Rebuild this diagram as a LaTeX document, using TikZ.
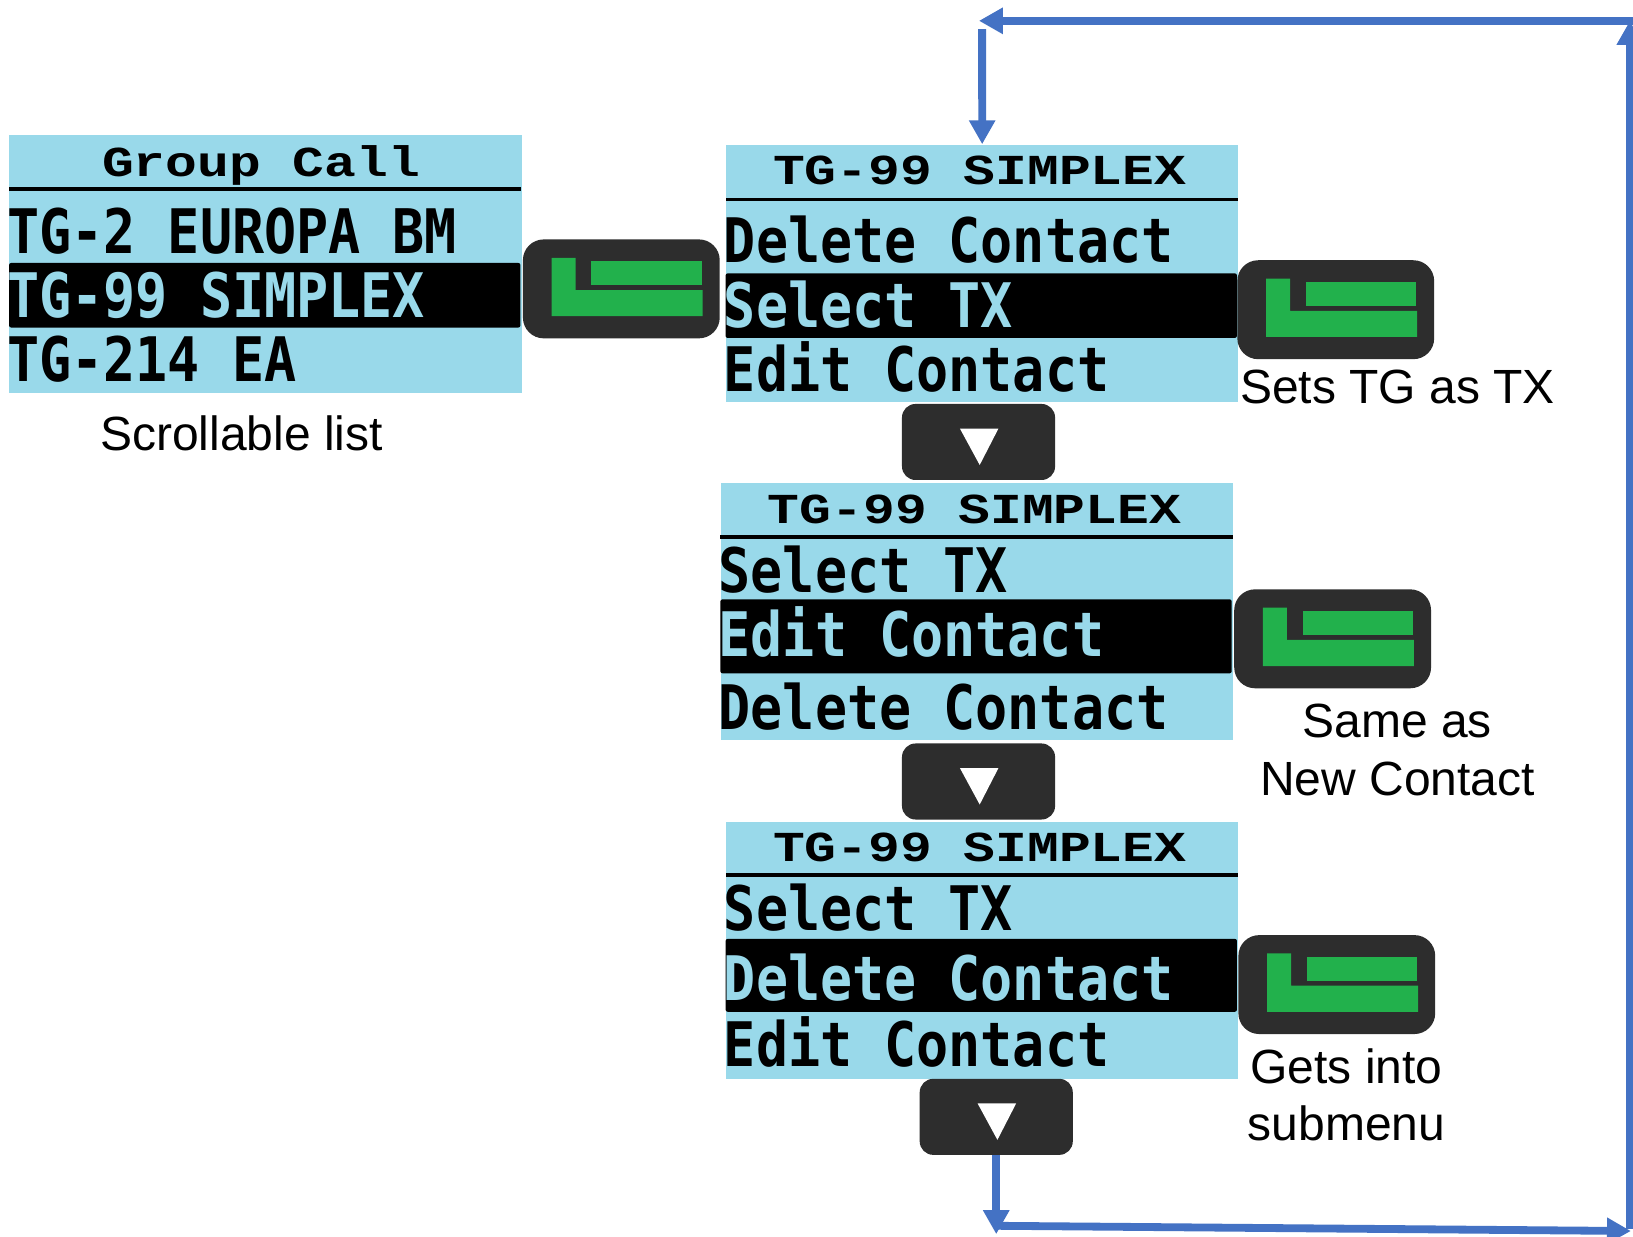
\documentclass[tikz,border=0pt]{standalone}
\usepackage{fontspec}
\usetikzlibrary{arrows.meta}
\setmainfont{Liberation Sans}
\newfontfamily\lcdtitle{Liberation Mono}[BoldFont={Liberation Mono Bold}]
\newfontfamily\lcditem{DejaVu Sans Mono}[BoldFont={DejaVu Sans Mono Bold}]
\definecolor{lcdblue}{HTML}{99D9EA}
\definecolor{btndark}{HTML}{2D2D2D}
\definecolor{btngreen}{HTML}{22B14C}
\definecolor{arrowblue}{HTML}{4472C4}
\def\un{0.52075pt}
\newcommand{\titletext}[1]{\scalebox{1.24}[1]{\fontsize{21.35pt}{21.35pt}\lcdtitle\bfseries #1}}
\newcommand{\itemtext}[1]{\scalebox{0.869}[1]{\fontsize{30.7pt}{30.7pt}\lcditem\bfseries #1}}
\tikzset{
  x=\un, y=-\un,
  panelbox/.style={fill=lcdblue, draw=none, inner sep=0pt, anchor=north west, minimum width=492*\un, minimum height=247*\un},
  titlenode/.style={inner sep=0pt, anchor=base, text=black},
  itemnode/.style={inner sep=0pt, anchor=base west, text=black},
  selnode/.style={inner sep=0pt, anchor=base west, text=lcdblue},
  okbtn/.style={fill=btndark, draw=none, rounded corners=20*\un, inner sep=0pt, anchor=north west, minimum width=189*\un, minimum height=95*\un},
  downbtn/.style={fill=btndark, draw=none, rounded corners=13*\un, inner sep=0pt, anchor=north west, minimum width=147*\un, minimum height=73*\un},
  caption/.style={inner sep=0pt, anchor=base, font=\fontsize{24pt}{24pt}\selectfont, text=black},
  flow/.style={draw=arrowblue, line width=7.5*\un},
  flowtip/.style={flow, -{Triangle[length=23*\un,width=24*\un]}},
}
% #1 x, #2 y, #3 rule rel y, #4 highlight top rel, #5 highlight height
\newcommand{\lcdchrome}[5]{%
  \fill[black] (#1,#2+#3-1.8) rectangle (#1+492,#2+#3+1.8);
  \fill[black, rounded corners=2*\un] (#1,#2+#4) rectangle (#1+491,#2+#4+#5);
}
\newcommand{\okglyph}[2]{%
  \fill[btngreen] (#1+28,#2+18) -- (#1+51,#2+18) -- (#1+51,#2+49) -- (#1+173,#2+49) -- (#1+173,#2+74) -- (#1+28,#2+74) -- cycle;
  \fill[btngreen] (#1+66,#2+21) rectangle (#1+172,#2+44);
}
\newcommand{\downglyph}[2]{%
  \fill[white] (#1+56,#2+24) -- (#1+93,#2+24) -- (#1+75,#2+59) -- cycle;
}
\begin{document}
\begin{tikzpicture}
\clip (0,0) rectangle (1568,1187);
\fill[white] (0,0) rectangle (1568,1187);

\begin{scope}[shift={(-0.3,-0.5)}]
% panel 1
\node[panelbox] (p1) at (9,130) {};
\lcdchrome{9}{130}{52}{123}{62}
\node[titlenode] (p1t) at (251,170) {\titletext{Group Call}};
\node[itemnode] (p1a) at (7,243.5) {\itemtext{TG-2 EUROPA BM}};
\node[selnode] (p1b) at (7,305.5) {\itemtext{TG-99 SIMPLEX}};
\node[itemnode] (p1c) at (7,366.5) {\itemtext{TG-214 EA}};

% panel 2
\node[panelbox] (p2) at (697,139) {};
\lcdchrome{697}{139}{53}{124}{62}
\node[titlenode] (p2t) at (941,178) {\titletext{TG-99 SIMPLEX}};
\node[itemnode] (p2a) at (695,253) {\itemtext{Delete Contact}};
\node[selnode] (p2b) at (695,314.5) {\itemtext{Select TX}};
\node[itemnode] (p2c) at (695,376) {\itemtext{Edit Contact}};

% panel 3
\node[panelbox] (p3) at (692,464) {};
\lcdchrome{692}{464}{52}{112}{71}
\node[titlenode] (p3t) at (936,503) {\titletext{TG-99 SIMPLEX}};
\node[itemnode] (p3a) at (690,569) {\itemtext{Select TX}};
\node[selnode] (p3b) at (690,631) {\itemtext{Edit Contact}};
\node[itemnode] (p3c) at (690,700.5) {\itemtext{Delete Contact}};

% panel 4
\node[panelbox] (p4) at (697,789) {};
\lcdchrome{697}{789}{51.5}{113}{70}
\node[titlenode] (p4t) at (941,828) {\titletext{TG-99 SIMPLEX}};
\node[itemnode] (p4a) at (695,894) {\itemtext{Select TX}};
\node[selnode] (p4b) at (695,961) {\itemtext{Delete Contact}};
\node[itemnode] (p4c) at (695,1025) {\itemtext{Edit Contact}};

% OK buttons
\node[okbtn] (ok1) at (502,230) {}; \okglyph{502}{230}
\node[okbtn] (ok2) at (1188,250) {}; \okglyph{1188}{250}
\node[okbtn] (ok3) at (1185,566) {}; \okglyph{1185}{566}
\node[okbtn] (ok4) at (1189,898) {}; \okglyph{1189}{898}

% down buttons
\node[downbtn] (dn1) at (866,388) {}; \downglyph{866}{388}
\node[downbtn] (dn2) at (866,714) {}; \downglyph{866}{714}
\node[downbtn] (dn3) at (883,1036) {}; \downglyph{883}{1036}
\end{scope}

% captions
\node[caption] (c1) at (232,433) {Scrollable list};
\node[caption] (c2) at (1342,387) {Sets TG as TX};
\node[caption] (c3a) at (1341.5,708) {Same as};
\node[caption] (c3b) at (1342,764) {New Contact};
\node[caption] (c4a) at (1293,1040) {Gets into};
\node[caption] (c4b) at (1293,1095) {submenu};

% loop connectors
\coordinate (bl) at (956,1185);
\coordinate (blstart) at (956,1177);
\coordinate (br) at (1566,1182);
\coordinate (brup) at (1565,1180);
\coordinate (tr) at (1565,20);
\coordinate (trstart) at (1568,20);
\coordinate (tl) at (940,20);
\coordinate (tlstart) at (943,28);
\draw[flowtip] (dn3.south) -- (dn3.south |- bl);
\draw[flowtip] (blstart) -- (br);
\draw[flowtip] (brup) -- (tr);
\draw[flowtip] (trstart) -- (tl);
\draw[flowtip] (tlstart) -- (p2.north);
\end{tikzpicture}
\end{document}
